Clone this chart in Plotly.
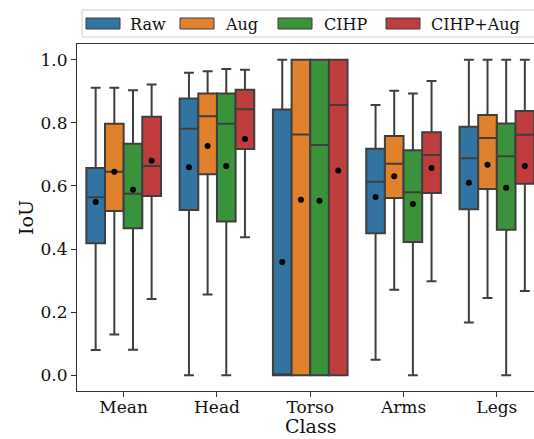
import plotly.graph_objects as go

classes = ["Mean", "Head", "Torso", "Arms", "Legs"]
series = ["Raw", "Aug", "CIHP", "CIHP+Aug"]
colors = ["#3274a1", "#e1812c", "#3a923a", "#c03d3e"]

lower = {
    "Raw":      [0.080, 0.000, 0.000, 0.049, 0.167],
    "Aug":      [0.129, 0.256, 0.000, 0.271, 0.245],
    "CIHP":     [0.081, 0.000, 0.000, 0.000, 0.000],
    "CIHP+Aug": [0.242, 0.437, 0.000, 0.298, 0.267],
}
q1 = {
    "Raw":      [0.418, 0.524, 0.000, 0.450, 0.526],
    "Aug":      [0.521, 0.637, 0.000, 0.562, 0.590],
    "CIHP":     [0.466, 0.487, 0.000, 0.422, 0.461],
    "CIHP+Aug": [0.568, 0.717, 0.000, 0.578, 0.607],
}
median = {
    "Raw":      [0.564, 0.781, 0.000, 0.613, 0.688],
    "Aug":      [0.645, 0.821, 0.763, 0.670, 0.752],
    "CIHP":     [0.575, 0.797, 0.730, 0.580, 0.694],
    "CIHP+Aug": [0.663, 0.843, 0.857, 0.698, 0.762],
}
q3 = {
    "Raw":      [0.657, 0.877, 0.842, 0.718, 0.788],
    "Aug":      [0.797, 0.893, 1.000, 0.758, 0.825],
    "CIHP":     [0.734, 0.893, 1.000, 0.713, 0.798],
    "CIHP+Aug": [0.819, 0.905, 1.000, 0.770, 0.838],
}
upper = {
    "Raw":      [0.911, 0.959, 1.000, 0.857, 1.000],
    "Aug":      [0.911, 0.964, 1.000, 0.902, 1.000],
    "CIHP":     [0.903, 0.971, 1.000, 0.893, 1.000],
    "CIHP+Aug": [0.922, 0.968, 1.000, 0.933, 1.000],
}
means = {
    "Raw":      [0.549, 0.659, 0.359, 0.565, 0.610],
    "Aug":      [0.645, 0.727, 0.556, 0.631, 0.667],
    "CIHP":     [0.588, 0.663, 0.553, 0.543, 0.594],
    "CIHP+Aug": [0.680, 0.749, 0.649, 0.657, 0.663],
}
y_ticks = [0.0, 0.2, 0.4, 0.6, 0.8, 1.0]

W, H = 534, 439
ML, MT, MB, MR = 77, 44, 48, 0
PW, PH = W - ML - MR, H - MT - MB
FONT = "DejaVu Serif"
EDGE = "#3f3f3f"

offsets = [-0.3, -0.1, 0.1, 0.3]
fig = go.Figure()
for i, s in enumerate(series):
    xs = [k + offsets[i] for k in range(len(classes))]
    fig.add_trace(go.Box(
        x=xs, q1=q1[s], median=median[s], q3=q3[s],
        lowerfence=lower[s], upperfence=upper[s],
        name=s, fillcolor=colors[i],
        line=dict(color=EDGE, width=2), width=0.2, whiskerwidth=0.53,
        boxpoints=False, showlegend=False,
    ))
for i, s in enumerate(series):
    xs = [k + offsets[i] for k in range(len(classes))]
    fig.add_trace(go.Scatter(
        x=xs, y=means[s], mode="markers",
        marker=dict(color="black", size=6), showlegend=False,
    ))

def px(x):
    return (x - ML) / PW

def py(y):
    return (H - MB - y) / PH

shapes = []
annotations = []
# legend frame
shapes.append(dict(type="rect", xref="paper", yref="paper",
                   x0=px(82), x1=px(545), y0=py(37), y1=py(10),
                   line=dict(color="#d0d0d0", width=1), fillcolor="rgba(255,255,255,0.8)",
                   layer="above"))
patch_x = [86, 180, 278, 386]
text_x = [128, 223, 322, 429]
for i, s in enumerate(series):
    shapes.append(dict(type="rect", xref="paper", yref="paper",
                       x0=px(patch_x[i]), x1=px(patch_x[i] + 34),
                       y0=py(29), y1=py(18),
                       line=dict(color=EDGE, width=1), fillcolor=colors[i], layer="above"))
    annotations.append(dict(text=s, xref="paper", yref="paper",
                            x=px(text_x[i]), y=py(24), xanchor="left", yanchor="middle",
                            showarrow=False, font=dict(family=FONT, size=16, color="#111")))
# x axis title centred on full category span
annotations.append(dict(text="Class", xref="x", yref="paper", x=2, y=py(439),
                        xanchor="center", yanchor="bottom", showarrow=False,
                        font=dict(family=FONT, size=19, color="#111")))

fig.update_layout(
    width=W, height=H,
    margin=dict(l=ML, r=MR, t=MT, b=MB, pad=0),
    paper_bgcolor="white", plot_bgcolor="white",
    boxmode="overlay", showlegend=False,
    shapes=shapes, annotations=annotations,
    font=dict(family=FONT, color="#111"),
)
fig.update_xaxes(
    range=[-0.5, -0.5 + PW / 93.3], tickmode="array",
    tickvals=list(range(len(classes))), ticktext=classes,
    ticks="outside", ticklen=5, tickcolor="#333", tickwidth=1.2,
    ticklabelstandoff=-5,
    showline=True, linecolor="#333", linewidth=1.2, mirror=True,
    showgrid=False, zeroline=False, tickfont=dict(family=FONT, size=17, color="#111"),
)
fig.update_yaxes(
    range=[-0.05, 1.05], tickmode="array", tickvals=y_ticks,
    ticktext=[f"{v:.1f}" for v in y_ticks],
    ticks="outside", ticklen=5, tickcolor="#333", tickwidth=1.2,
    showline=True, linecolor="#333", linewidth=1.2, mirror=False,
    showgrid=False, zeroline=False, tickfont=dict(family=FONT, size=17, color="#111"),
    title=dict(text="IoU", font=dict(family=FONT, size=19, color="#111"), standoff=1),
)
fig.write_html("out.html")
